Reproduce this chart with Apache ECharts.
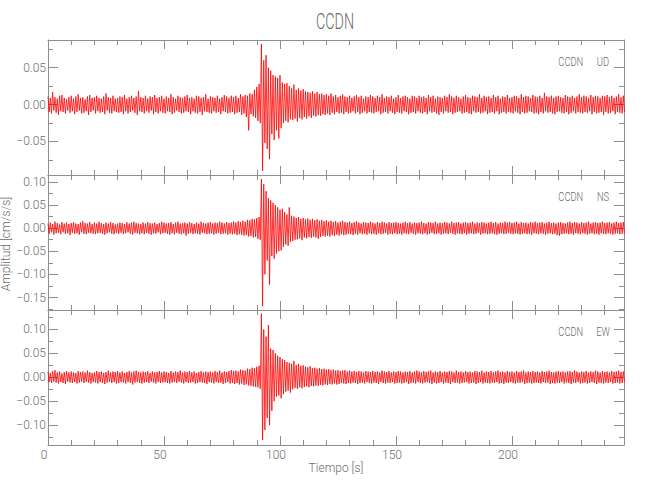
<!DOCTYPE html>
<html>
<head>
<meta charset="utf-8">
<script src="https://cdn.jsdelivr.net/npm/echarts@6/dist/echarts.min.js"></script>
<style>html,body{margin:0;padding:0;background:#fff}#c{width:650px;height:500px}</style>
</head>
<body>
<div id="c"></div>
<script>
// ---- data (amplitudes in thousandths of cm/s/s, per 1 s bin: max and min) ----
const station = 'CCDN';
const components = ['UD', 'NS', 'EW'];
const timeStep = 1;      // seconds per bin
const unit = 0.001;      // values below are in 0.001 cm/s/s

const udHi = [
 11,9,17,10,8,12,13,9,7,10, 12,8,11,14,9,10,7,11,13,9, 10,12,9,8,11,15,10,9,12,8, 9,11,10,13,8,10,12,9,11,18,
 10,9,12,8,11,10,13,9,10,12, 8,11,9,14,10,8,12,10,9,11, 13,9,10,8,12,11,9,10,14,8, 11,10,9,12,8,10,13,11,9,12,
 10,12,9,14,11,13,12,15,14,20, 24,28,82,60,67,50,46,40,38,36, 40,30,28,29,25,22,27,20,22,19, 21,18,17,16,18,15,17,14,15,13,
 14,12,15,11,13,10,12,14,11,10, 12,9,11,13,10,12,8,11,10,13, 11,9,12,10,14,9,11,10,12,8, 10,13,9,11,12,10,8,12,11,9,
 12,10,11,9,13,10,12,8,11,10, 9,12,10,14,11,9,12,10,8,11, 13,10,9,12,11,10,14,9,12,10, 11,9,13,10,12,8,11,10,13,9,
 10,12,11,9,14,10,12,11,9,13, 11,10,12,9,16,11,10,12,9,11, 12,10,9,13,11,10,12,9,11,14, 10,12,11,9,13,10,12,11,9,12,
 11,13,10,12,9,11,14,10,12
];
const udLo = [
 -10,-12,-8,-11,-14,-9,-10,-12,-8,-11, -9,-13,-10,-8,-12,-11,-9,-14,-10,-8, -12,-9,-11,-10,-13,-8,-11,-12,-9,-10, -11,-10,-13,-9,-12,-10,-8,-11,-14,-9,
 -10,-12,-9,-11,-8,-13,-10,-12,-9,-11, -12,-9,-10,-13,-11,-8,-10,-12,-11,-9, -10,-13,-9,-11,-12,-10,-14,-9,-10,-11, -12,-9,-11,-10,-13,-9,-10,-12,-11,-10,
 -13,-11,-10,-14,-12,-17,-35,-13,-16,-18, -22,-25,-90,-52,-60,-74,-40,-48,-35,-46, -32,-25,-22,-24,-20,-21,-19,-23,-18,-20, -17,-19,-16,-18,-15,-16,-14,-15,-13,-14,
 -12,-14,-11,-13,-10,-12,-11,-13,-10,-12, -11,-9,-12,-10,-13,-11,-9,-12,-10,-11, -12,-10,-9,-13,-11,-10,-12,-9,-11,-13, -10,-11,-12,-9,-10,-13,-11,-10,-12,-9,
 -11,-12,-10,-13,-9,-11,-10,-12,-14,-10, -12,-9,-11,-10,-13,-11,-10,-9,-12,-11, -10,-12,-13,-9,-11,-10,-12,-11,-9,-13, -11,-10,-12,-9,-13,-11,-10,-12,-10,-11,
 -12,-9,-11,-13,-10,-12,-11,-9,-10,-12, -11,-13,-10,-12,-9,-11,-10,-12,-13,-10, -9,-11,-12,-10,-13,-11,-9,-12,-10,-11, -12,-10,-11,-9,-13,-10,-12,-11,-10,-14,
 -10,-12,-11,-9,-13,-10,-11,-12,-10
];
const nsHi = [
 10,12,9,14,11,8,13,10,12,9, 11,13,10,9,12,15,11,10,13,9, 12,10,14,11,9,12,10,13,11,8, 10,12,11,9,13,10,12,14,11,10,
 9,12,10,13,11,10,12,9,11,14, 12,10,11,13,9,12,14,10,11,12, 10,13,11,9,12,10,14,11,10,12, 13,10,12,11,14,12,10,13,11,12,
 14,12,15,13,16,14,18,17,20,19, 22,24,106,95,80,65,60,55,50,45, 40,42,35,30,45,27,25,22,24,20, 22,19,21,18,20,17,19,16,18,15,
 17,14,16,13,15,12,14,16,13,12, 14,11,13,15,12,10,13,12,11,14, 12,10,13,11,14,12,10,13,11,12, 13,11,10,12,14,11,13,10,12,11,
 12,14,11,10,13,12,11,14,10,12, 11,13,12,10,14,11,12,13,10,12, 13,11,12,14,10,12,11,13,12,10, 12,14,11,13,10,12,11,14,12,13,
 11,12,14,10,13,11,12,10,13,12, 14,11,12,13,10,12,14,11,12,10, 12,13,11,10,12,14,11,13,12,10, 13,11,12,14,10,12,13,11,12,14,
 11,12,13,10,12,14,11,12,13
];
const nsLo = [
 -12,-9,-14,-11,-10,-13,-9,-12,-11,-15, -10,-12,-11,-14,-9,-12,-13,-10,-11,-12, -13,-11,-10,-12,-14,-11,-9,-12,-13,-10, -12,-10,-13,-11,-9,-12,-14,-10,-11,-13,
 -11,-13,-10,-12,-14,-11,-12,-9,-13,-11, -10,-12,-14,-11,-13,-10,-12,-13,-11,-16, -12,-10,-13,-11,-12,-14,-10,-11,-13,-12, -11,-14,-12,-10,-13,-12,-11,-14,-12,-13,
 -12,-15,-13,-14,-16,-15,-18,-17,-20,-19, -23,-25,-169,-100,-70,-122,-60,-66,-55,-50, -48,-40,-35,-38,-30,-28,-25,-24,-22,-26, -20,-22,-19,-21,-18,-20,-23,-19,-17,-18,
 -16,-18,-15,-17,-14,-16,-13,-15,-14,-12, -13,-15,-12,-14,-11,-13,-12,-14,-11,-13, -12,-14,-11,-13,-12,-10,-14,-12,-13,-11, -13,-12,-14,-11,-12,-13,-10,-12,-14,-11,
 -12,-13,-11,-14,-12,-10,-13,-12,-11,-14, -12,-11,-13,-10,-12,-14,-11,-12,-13,-11, -14,-12,-11,-13,-12,-10,-14,-12,-11,-13, -12,-11,-13,-14,-12,-11,-13,-12,-10,-12,
 -13,-11,-12,-14,-12,-11,-13,-12,-14,-11, -12,-13,-11,-12,-14,-12,-11,-13,-12,-15, -16,-13,-12,-11,-13,-12,-14,-11,-12,-13, -11,-12,-14,-12,-11,-13,-12,-14,-11,-12,
 -13,-11,-12,-14,-12,-11,-13,-12,-11
];
const ewHi = [
 11,9,13,15,10,12,8,11,13,10, 12,10,9,13,11,12,10,14,11,9, 10,13,11,12,9,11,14,10,12,11, 13,10,12,9,11,13,10,12,14,11,
 10,12,11,13,9,12,10,11,13,10, 12,11,9,13,10,12,11,14,10,12, 11,13,10,12,9,11,13,10,12,11, 12,10,13,11,14,10,12,11,13,15,
 13,14,12,16,15,14,18,17,20,19, 22,24,133,100,85,109,60,57,50,45, 42,38,36,32,30,28,34,26,28,24, 25,22,21,23,19,20,18,19,17,18,
 16,17,15,16,14,15,13,14,15,12, 14,12,13,11,13,12,10,13,12,11, 13,11,12,10,14,12,11,13,10,12, 11,13,12,10,12,11,13,10,12,14,
 12,10,13,11,12,14,10,12,11,13, 10,12,11,13,12,10,14,11,12,10, 13,11,12,10,13,12,11,14,10,12, 11,13,10,12,14,11,12,10,13,11,
 12,10,13,11,12,14,10,12,11,13, 11,12,10,13,11,12,14,11,10,12, 13,11,12,10,12,13,11,14,12,10, 12,11,13,10,12,11,14,12,10,13,
 11,12,10,13,11,12,14,11,12
];
const ewLo = [
 -10,-12,-9,-11,-13,-10,-12,-14,-9,-11, -12,-10,-13,-11,-9,-12,-10,-11,-13,-10, -11,-13,-10,-12,-14,-11,-9,-12,-10,-13, -12,-10,-11,-13,-10,-12,-15,-11,-10,-12,
 -13,-11,-10,-12,-9,-11,-13,-10,-12,-11, -10,-12,-13,-11,-10,-12,-9,-11,-13,-10, -12,-11,-10,-13,-12,-10,-11,-12,-14,-10, -11,-13,-10,-12,-11,-14,-12,-10,-13,-12,
 -14,-12,-15,-13,-16,-15,-17,-18,-19,-20, -21,-24,-131,-110,-85,-100,-70,-50,-40,-38, -44,-35,-30,-28,-32,-25,-22,-24,-21,-23, -20,-19,-21,-18,-19,-17,-18,-16,-17,-15,
 -16,-14,-15,-13,-15,-14,-12,-13,-14,-12, -13,-11,-12,-14,-12,-11,-13,-10,-12,-13, -11,-12,-14,-10,-12,-13,-11,-12,-10,-13, -12,-11,-13,-12,-10,-14,-12,-11,-13,-10,
 -12,-13,-11,-10,-12,-14,-11,-13,-12,-10, -13,-11,-12,-14,-10,-12,-11,-13,-12,-11, -10,-13,-12,-11,-14,-12,-10,-13,-11,-12, -13,-11,-12,-10,-13,-12,-14,-11,-12,-10,
 -12,-13,-11,-12,-10,-14,-12,-11,-13,-12, -11,-12,-13,-10,-12,-11,-14,-12,-13,-11, -12,-10,-13,-11,-12,-14,-11,-12,-10,-13, -12,-11,-13,-12,-10,-12,-14,-11,-12,-13,
 -11,-12,-10,-13,-12,-11,-13,-12,-10
];

// ---- tick labels and axis ranges ----
const xTicks = [0, 50, 100, 150, 200];
const xMinorTicks = [10,20,30,40,60,70,80,90,110,120,130,140,160,170,180,190,210,220,230,240];
const xMax = 248.3;
const yTicksUD = [-0.05, 0, 0.05];
const yTicksNS = [-0.15, -0.1, -0.05, 0, 0.05, 0.1];
const yTicksEW = [-0.1, -0.05, 0, 0.05, 0.1];
const yMinorUD = [-0.075, -0.025, 0.025, 0.075];
const yMinorNS = [-0.175, -0.125, -0.075, -0.025, 0.025, 0.075];
const yMinorEW = [-0.125, -0.075, -0.025, 0.025, 0.075, 0.125];
const yMin = [-0.0955, -0.177, -0.1415];
const yMax = [0.0876, 0.115, 0.1406];

// ---- build chart ----
const FONT = 'Roboto, "DejaVu Sans", sans-serif';
const AX = '#8e8e8e';
const TXT = '#6c6c6c';
const gridTop = [40, 175, 310];
const gridH = 135;
const his = [udHi, nsHi, ewHi];
const los = [udLo, nsLo, ewLo];
const yMajor = [yTicksUD, yTicksNS, yTicksEW];
const yMinor = [yMinorUD, yMinorNS, yMinorEW];

const fmtY = v => (v < 0 ? '\u2212' : '') + Math.abs(v).toFixed(2);

const grid = gridTop.map(t => ({ left: 48, right: 26, top: t, height: gridH }));
const xAxis = [], yAxis = [];
const lineOn = { show: true, onZero: false, lineStyle: { color: AX, width: 1 } };
const lineOff = { show: false, onZero: false };
for (let g = 0; g < 3; g++) {
  const last = g === 2;
  const xb = { gridIndex: g, type: 'value', min: 0, max: xMax, splitLine: { show: false } };
  const tickStyle = { color: AX, width: 1 };
  xAxis.push(Object.assign({}, xb, {
    position: 'bottom', axisLine: lineOn,
    axisTick: { show: true, inside: true, length: 9, customValues: xTicks, lineStyle: tickStyle },
    axisLabel: { show: last, customValues: xTicks, color: TXT, fontFamily: FONT, fontWeight: 300, fontSize: 12, margin: 4, padding: [0, 8, 0, 0] },
    name: last ? 'Tiempo [s]' : '', nameLocation: 'middle', nameGap: 17,
    nameTextStyle: { color: TXT, fontFamily: FONT, fontWeight: 300, fontSize: 12 }
  }));
  xAxis.push(Object.assign({}, xb, {
    position: 'bottom', axisLine: lineOff,
    axisTick: { show: true, inside: true, length: 5, customValues: xMinorTicks, lineStyle: tickStyle },
    axisLabel: { show: false }
  }));
  xAxis.push(Object.assign({}, xb, {
    position: 'top', axisLine: lineOn,
    axisTick: { show: true, inside: true, length: 9, customValues: xTicks, lineStyle: tickStyle },
    axisLabel: { show: false }
  }));
  xAxis.push(Object.assign({}, xb, {
    position: 'top', axisLine: lineOff,
    axisTick: { show: true, inside: true, length: 5, customValues: xMinorTicks, lineStyle: tickStyle },
    axisLabel: { show: false }
  }));

  const yb = { gridIndex: g, type: 'value', min: yMin[g], max: yMax[g], splitLine: { show: false } };
  yAxis.push(Object.assign({}, yb, {
    position: 'left', axisLine: lineOn,
    axisTick: { show: true, inside: true, length: 10, customValues: yMajor[g], lineStyle: tickStyle },
    axisLabel: { show: true, customValues: yMajor[g], formatter: fmtY, color: TXT, fontFamily: FONT, fontWeight: 300, fontSize: 12, margin: 2 }
  }));
  yAxis.push(Object.assign({}, yb, {
    position: 'left', axisLine: lineOff,
    axisTick: { show: true, inside: true, length: 5, customValues: yMinor[g], lineStyle: tickStyle },
    axisLabel: { show: false }
  }));
  yAxis.push(Object.assign({}, yb, {
    position: 'right', axisLine: lineOn,
    axisTick: { show: true, inside: true, length: 10, customValues: yMajor[g], lineStyle: tickStyle },
    axisLabel: { show: false }
  }));
  yAxis.push(Object.assign({}, yb, {
    position: 'right', axisLine: lineOff,
    axisTick: { show: true, inside: true, length: 5, customValues: yMinor[g], lineStyle: tickStyle },
    axisLabel: { show: false }
  }));
}

const series = his.map((hi, g) => {
  const data = [];
  hi.forEach((v, i) => {
    data.push([i * timeStep, v * unit]);
    data.push([(i + 0.5) * timeStep, los[g][i] * unit]);
  });
  return {
    type: 'line', name: components[g], xAxisIndex: 4 * g, yAxisIndex: 4 * g, data,
    showSymbol: false, symbol: 'none', silent: true, clip: true,
    lineStyle: { color: '#ff0000', width: 0.8 }
  };
});

const graphic = [
  { type: 'text', x: 335, y: 22, scaleX: 0.65, silent: true,
    style: { text: station, fontSize: 22, fontFamily: FONT, fontWeight: 300, fill: TXT, align: 'center', verticalAlign: 'middle' } },
  { type: 'text', x: 6, y: 244, rotation: Math.PI / 2, silent: true,
    style: { text: 'Amplitud [cm/s/s]', fontSize: 12, fontFamily: FONT, fontWeight: 300, fill: TXT, align: 'center', verticalAlign: 'middle' } }
];
components.forEach((c, g) => {
  graphic.push({ type: 'text', x: 570.8, y: gridTop[g] + 21.5, scaleX: 0.72, silent: true,
    style: { text: station, fontSize: 13, fontFamily: FONT, fontWeight: 300, fill: TXT, align: 'center', verticalAlign: 'middle' } });
  graphic.push({ type: 'text', x: 603, y: gridTop[g] + 21.5, scaleX: 0.72, silent: true,
    style: { text: c, fontSize: 13, fontFamily: FONT, fontWeight: 300, fill: TXT, align: 'center', verticalAlign: 'middle' } });
});

const chart = echarts.init(document.getElementById('c'), null, { renderer: 'svg', width: 650, height: 500 });
chart.setOption({
  animation: false,
  backgroundColor: '#ffffff',
  grid, xAxis, yAxis, series, graphic
});
</script>
</body>
</html>
